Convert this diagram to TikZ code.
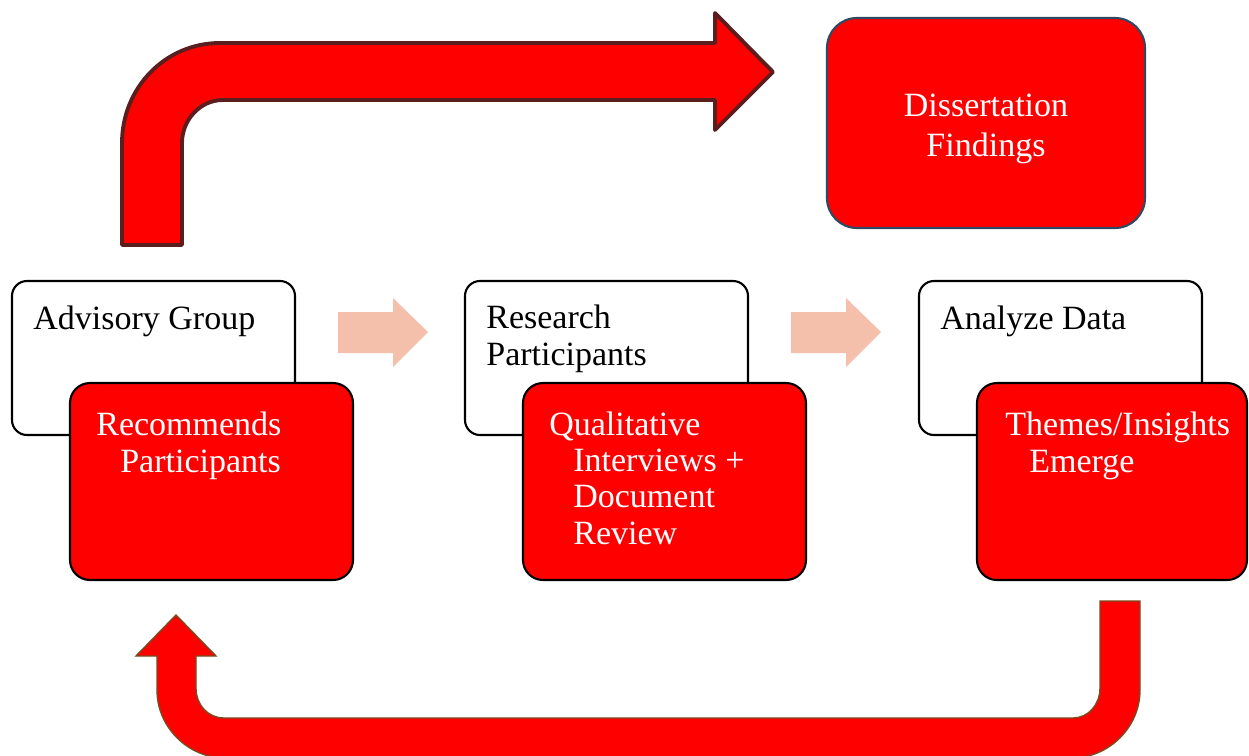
\documentclass[tikz,border=0pt]{standalone}
\usepackage{fontspec}
\setmainfont{Liberation Serif}
\usepackage{xcolor}
\definecolor{boxred}{HTML}{FF0000}
\definecolor{peach}{HTML}{F4C0AC}
\definecolor{darkrim}{HTML}{5A1E1E}
\definecolor{brownrim}{HTML}{7A4A20}
\definecolor{slaterim}{HTML}{2E4A62}
\newcommand{\indln}{\hspace*{0.48cm}}

\begin{document}
\begin{tikzpicture}[x=0.02cm, y=-0.02cm,
  whitebox/.style={draw=black, line width=1.2pt, fill=white, rounded corners=0.3cm},
  redbox/.style={draw=black, line width=1.2pt, fill=boxred, rounded corners=0.4cm},
  txt/.style={inner sep=0pt, anchor=base west, align=left, font=\fontsize{19.35pt}{20.5pt}\selectfont},
  peacharrow/.style={fill=peach}]
\useasboundingbox (0,0) rectangle (1249,755);
\clip (0,0) rectangle (1249,755);

% big arrow to the findings
\draw[fill=boxred, draw=darkrim, line width=2.2pt, line join=round]
  (122,245) -- (122,143) .. controls (122,88) and (165,43) .. (220,43) -- (715,43) -- (715,13) -- (773,72)
  -- (715,130) -- (715,100) -- (223,100) .. controls (200,100) and (182,120) .. (182,143) -- (182,245) -- cycle;

% return arrow at the bottom
\draw[fill=boxred, draw=brownrim, line width=0.8pt]
  (1100,601) -- (1140,601) -- (1140,690) .. controls (1140,728) and (1108,758) .. (1072,758) -- (225,758)
  .. controls (189,758) and (157,728) .. (157,690) -- (157,656) -- (136,656) -- (176,615) -- (216,656)
  -- (196,656) -- (196,688) .. controls (196,705) and (208,718) .. (224,718) -- (1073,718)
  .. controls (1088,718) and (1100,705) .. (1100,688) -- cycle;

\draw[fill=boxred, draw=slaterim, line width=1.2pt, rounded corners=0.6cm] (827,18) rectangle (1145,228);
\node[inner sep=0pt, align=center, text=white, font=\fontsize{19.35pt}{22.8pt}\selectfont] (findings) at (986,129) {Dissertation\\Findings};

% step 1 (text nodes sit on the baseline of their last line)
\draw[whitebox] (12,281) rectangle (295,435);
\node[txt] (advisory) at (33,329) {Advisory Group};
\draw[redbox] (70,383) rectangle (353,580);
\node[txt, text=white] (recommend) at (96,472) {Recommends\\\indln Participants};

% step 2
\draw[whitebox] (465,281) rectangle (748,435);
\node[txt] (research) at (486,365) {Research\\Participants};
\draw[redbox] (523,383) rectangle (806,580);
\node[txt, text=white] (interviews) at (549,544) {Qualitative\\\indln Interviews +\\\indln Document\\\indln Review};

% step 3
\draw[whitebox] (919,281) rectangle (1202,435);
\node[txt] (analyze) at (940,329) {Analyze Data};
\draw[redbox] (977,383) rectangle (1247,580);
\node[txt, text=white] (themes) at (1005,472) {Themes/Insights\\\indln Emerge};

% arrows between the steps
\foreach \dx in {0,453}
  \fill[peacharrow] (338+\dx,312) -- (393+\dx,312) -- (393+\dx,298) -- (428+\dx,332) -- (393+\dx,367) -- (393+\dx,353) -- (338+\dx,353) -- cycle;
\end{tikzpicture}
\end{document}
